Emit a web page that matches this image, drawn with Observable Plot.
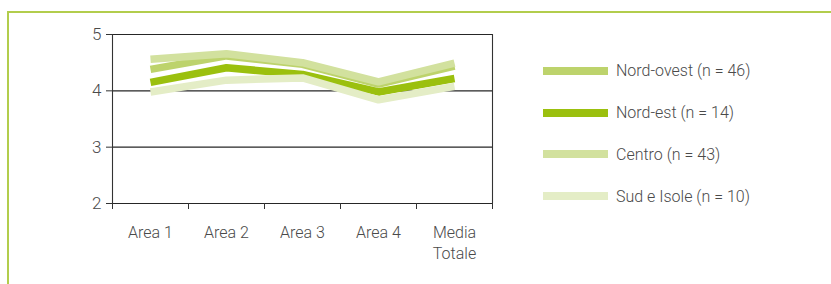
<!DOCTYPE html>
<html><head><meta charset="utf-8">
<script src="https://cdn.jsdelivr.net/npm/d3@7"></script>
<script src="https://cdn.jsdelivr.net/npm/@observablehq/plot@0.6"></script>
<style>
body{margin:0;background:#fff;}
#wrap{position:relative;width:831px;height:284px;overflow:hidden;font-family:Roboto,"Noto Sans",sans-serif;font-weight:300;color:#4a4a4a;}
#frame{position:absolute;left:7px;top:11px;right:-4px;bottom:-4px;border-top:2px solid #b2cd4c;border-left:2px solid #b2cd4c;}
#chart{position:absolute;left:0;top:0;}
#legend{position:absolute;left:543px;top:0;width:280px;height:284px;}
.item{position:absolute;left:0;height:20px;display:flex;align-items:center;white-space:nowrap;font-size:16px;}
.sw{width:65px;height:8px;margin-right:8px;}
</style></head>
<body><div id="wrap"><div id="frame"></div><div id="chart"></div><div id="legend"></div></div>
<script>
const categories = ["Area 1", "Area 2", "Area 3", "Area 4", "Media\nTotale"];
const seriesNames = ["Nord-ovest (n = 46)", "Nord-est (n = 14)", "Centro (n = 43)", "Sud e Isole (n = 10)"];
const nordOvest = [4.38, 4.62, 4.47, 4.12, 4.44];
const nordEst   = [4.15, 4.41, 4.29, 3.98, 4.22];
const centro    = [4.56, 4.66, 4.50, 4.16, 4.49];
const sudIsole  = [3.98, 4.19, 4.23, 3.84, 4.08];
const seriesColors = ["#bdd36c", "#9bc00e", "#d2e19e", "#e4edc6"];
const yTicks = [2, 3, 4, 5];

const values = [nordOvest, nordEst, centro, sudIsole];
const data = seriesNames.flatMap((s, k) => values[k].map((v, i) => ({series: s, i, v})));
const idx = d3.range(categories.length);
const bounds = d3.range(categories.length + 1).map(b => b - 0.5);

const chart = Plot.plot({
  width: 500, height: 284,
  marginLeft: 112, marginRight: 8, marginTop: 34, marginBottom: 81,
  x: {type: "linear", domain: [-0.5, categories.length - 0.5]},
  y: {domain: [2, 5]},
  color: {domain: seriesNames, range: seriesColors},
  style: {fontFamily: "Roboto, 'Noto Sans', sans-serif", fontWeight: 300, fontSize: "16px", color: "#4a4a4a", background: "transparent", overflow: "visible"},
  marks: [
    Plot.ruleY(yTicks, {stroke: "#262626", strokeWidth: 1.1}),
    Plot.ruleX(bounds.filter((b, j) => j === 0 || j === bounds.length - 1), {y1: 2, y2: 5, stroke: "#333", strokeWidth: 1.1}),
    Plot.axisY({ticks: yTicks, tickSize: 6, tickPadding: 5, tickFormat: d3.format("d"), stroke: "#333", fontSize: 17, label: null}),
    Plot.axisX({ticks: bounds, tickSize: 6, tickFormat: () => "", stroke: "#333", label: null}),
    Plot.axisX({ticks: idx, tickSize: 0, tickPadding: 20, tickFormat: i => categories[i], lineHeight: 1.3, label: null}),
    Plot.line(data, {x: "i", y: "v", z: "series", stroke: "series", strokeWidth: 7.5, strokeLinejoin: "miter", strokeLinecap: "butt", curve: "linear"})
  ]
});
document.getElementById("chart").appendChild(chart);

const legend = document.getElementById("legend");
const rowCenters = [70.7, 112.7, 154.3, 196.3];
seriesNames.forEach((s, k) => {
  const it = document.createElement("div");
  it.className = "item";
  it.style.top = (rowCenters[k] - 10) + "px";
  const sw = document.createElement("div");
  sw.className = "sw";
  sw.style.background = seriesColors[k];
  const t = document.createElement("span");
  t.textContent = s;
  it.appendChild(sw); it.appendChild(t);
  legend.appendChild(it);
});
</script></body></html>
